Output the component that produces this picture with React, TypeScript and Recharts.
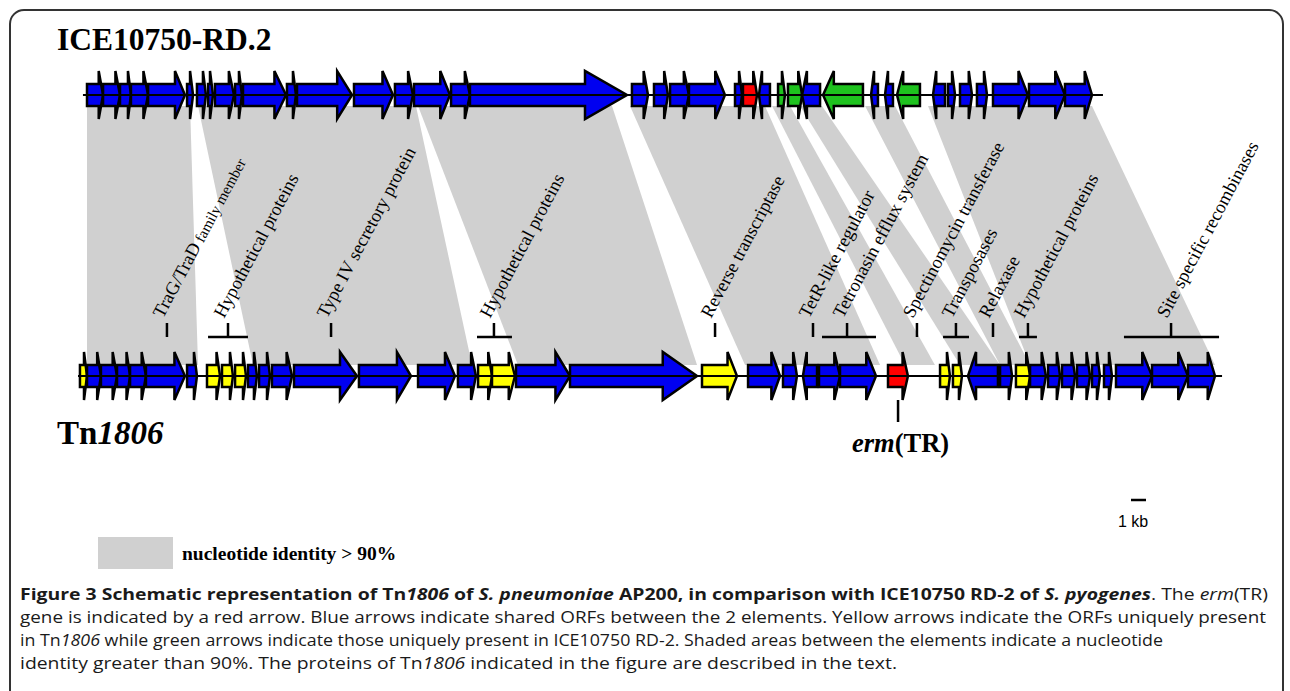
import React from "react";
import {
  ComposedChart,
  XAxis,
  YAxis,
  ReferenceArea,
  ReferenceLine,
  ReferenceDot,
} from "recharts";

// positions in kb (1 kb ~ 15 px)
type Gene = [number, number, number, string]; // start, end, strand (1 = right, -1 = left), colour key
type Band = [number, number, number, number]; // top start, top end, bottom start, bottom end

const topSpan = [0.33, 68.33];
const bottomSpan = [0, 76.27];

const topGenes: Gene[] = [
  [0.6, 1.67, 1, "b"],
  [1.67, 2.8, 1, "b"],
  [2.8, 3.53, 1, "b"],
  [3.53, 4.67, 1, "b"],
  [4.67, 7.13, 1, "b"],
  [7.27, 7.67, 1, "b"],
  [7.93, 8.53, 1, "b"],
  [8.67, 9.0, 1, "b"],
  [9.13, 10.4, 1, "b"],
  [10.47, 10.93, 1, "b"],
  [11.0, 13.87, 1, "b"],
  [13.93, 14.53, 1, "b"],
  [14.6, 18.27, 1, "b"],
  [18.4, 21.0, 1, "b"],
  [21.13, 22.33, 1, "b"],
  [22.4, 24.8, 1, "b"],
  [24.87, 26.13, 1, "b"],
  [26.13, 36.6, 1, "b"],
  [36.93, 38.0, 1, "b"],
  [38.4, 39.33, 1, "b"],
  [39.47, 40.73, 1, "b"],
  [40.73, 43.13, 1, "b"],
  [43.8, 44.27, 1, "b"],
  [44.33, 45.27, 1, "r"],
  [45.4, 46.13, -1, "b"],
  [46.67, 47.13, 1, "g"],
  [47.33, 48.27, 1, "g"],
  [48.27, 49.47, -1, "b"],
  [49.67, 52.33, -1, "g"],
  [52.87, 53.33, -1, "b"],
  [53.8, 54.33, -1, "b"],
  [54.6, 56.13, -1, "g"],
  [57.0, 57.8, -1, "b"],
  [58.0, 58.47, 1, "b"],
  [58.8, 59.6, 1, "b"],
  [59.93, 60.6, 1, "b"],
  [61.0, 63.33, 1, "b"],
  [63.4, 65.8, 1, "b"],
  [65.8, 67.6, 1, "b"],
];

const bottomGenes: Gene[] = [
  [0.13, 0.6, 1, "y"],
  [0.6, 1.53, 1, "b"],
  [1.53, 2.6, 1, "b"],
  [2.6, 3.47, 1, "b"],
  [3.47, 4.53, 1, "b"],
  [4.53, 7.13, 1, "b"],
  [7.27, 7.93, 1, "b"],
  [8.6, 9.47, 1, "y"],
  [9.6, 10.33, 1, "y"],
  [10.47, 11.2, 1, "y"],
  [11.33, 11.93, 1, "b"],
  [12.07, 12.8, 1, "b"],
  [12.93, 14.27, 1, "b"],
  [14.4, 18.6, 1, "b"],
  [18.73, 22.2, 1, "b"],
  [22.67, 25.13, 1, "b"],
  [25.33, 26.53, 1, "b"],
  [26.67, 27.6, 1, "y"],
  [27.6, 29.13, 1, "y"],
  [29.2, 32.8, 1, "b"],
  [32.8, 41.27, 1, "b"],
  [41.6, 43.93, 1, "y"],
  [44.67, 46.8, 1, "b"],
  [47.0, 47.93, 1, "b"],
  [48.33, 49.27, -1, "b"],
  [49.4, 50.8, 1, "b"],
  [50.8, 53.2, 1, "b"],
  [54.0, 55.33, 1, "r"],
  [57.47, 58.13, 1, "y"],
  [58.33, 58.93, 1, "y"],
  [59.33, 61.33, -1, "b"],
  [61.47, 62.27, 1, "b"],
  [62.53, 63.47, 1, "y"],
  [63.47, 64.53, 1, "b"],
  [64.67, 65.47, 1, "b"],
  [65.6, 66.47, 1, "b"],
  [66.6, 67.47, 1, "b"],
  [67.6, 68.13, 1, "b"],
  [68.4, 68.93, 1, "b"],
  [69.2, 71.6, 1, "b"],
  [71.6, 74.0, 1, "b"],
  [74.0, 75.8, 1, "b"],
];

const bands: Band[] = [
  [0.6, 7.47, 0.6, 8.0],
  [8.0, 22.53, 11.67, 26.27],
  [22.67, 35.6, 29.33, 41.27],
  [36.8, 45.8, 44.47, 53.47],
  [46.27, 47.47, 55.13, 57.13],
  [48.13, 49.6, 58.8, 61.47],
  [52.47, 54.47, 61.47, 63.47],
  [56.67, 67.6, 63.47, 75.8],
];

const labels = [
  { name: "TraG/TraD", small: " family member", tick: 5.93 },
  { name: "Hypothetical proteins", tick: 10.0, from: 8.67, to: 11.33 },
  { name: "Type IV secretory protein", tick: 16.87 },
  { name: "Hypothetical proteins", tick: 27.73, from: 26.6, to: 28.93 },
  { name: "Reverse transcriptase", tick: 42.47 },
  { name: "TetR-like regulator", tick: 49.0 },
  { name: "Tetronasin efflux system", tick: 51.27, from: 49.6, to: 53.2 },
  { name: "Spectinomycin transferase", tick: 55.93 },
  { name: "Transposases", tick: 58.53, from: 57.67, to: 59.4 },
  { name: "Relaxase", tick: 61.0 },
  { name: "Hypothetical proteins", tick: 63.33, from: 62.73, to: 63.93 },
  { name: "Site specific recombinases", tick: 72.87, from: 69.73, to: 76.07 },
];

const ermTick = 54.67;
const scaleBar = [70.2, 71.2];

const COLORS: Record<string, string> = {
  b: "#0000f0",
  g: "#1ec21e",
  y: "#ffff00",
  r: "#ff0000",
};

const TOP_Y = 95;
const BOT_Y = 376;
const HALF = 11;
const TICK_TOP = 323;
const TICK_BOT = 337;
const SCALE_Y = 500;
const SERIF = "'Liberation Serif', 'Times New Roman', serif";

function geneShape(dir: number, fill: string) {
  return (p: any) => {
    const { x, y, width: w, height: h } = p;
    const cy = y + h / 2;
    const hh = h * 1.09;
    const head = Math.max(3, Math.min(w * 0.27, 42));
    let pts: number[][];
    if (dir > 0) {
      const bx = x + w - head;
      pts = [[x, y], [bx, y], [bx, cy - hh], [x + w, cy], [bx, cy + hh], [bx, y + h], [x, y + h]];
    } else {
      const bx = x + head;
      pts = [[x + w, y], [bx, y], [bx, cy - hh], [x, cy], [bx, cy + hh], [bx, y + h], [x + w, y + h]];
    }
    return (
      <polygon
        points={pts.map((q) => q.join(",")).join(" ")}
        fill={fill}
        stroke="#000"
        strokeWidth={2.5}
      />
    );
  };
}

function bandShape(b: Band) {
  return (p: any) => {
    const { x, y, width, height } = p;
    const lo = Math.min(b[0], b[2]);
    const hi = Math.max(b[1], b[3]);
    const px = (v: number) => x + ((v - lo) / (hi - lo)) * width;
    const pts = [
      [px(b[0]), y],
      [px(b[1]), y],
      [px(b[3]), y + height],
      [px(b[2]), y + height],
    ];
    return <polygon points={pts.map((q) => q.join(",")).join(" ")} fill="#d0d0d0" />;
  };
}

function labelShape(name: string, small?: string) {
  return (p: any) => {
    const sx = p.cx - 4;
    const sy = p.cy;
    return (
      <text
        x={sx}
        y={sy}
        transform={`rotate(-62 ${sx} ${sy})`}
        fontFamily={SERIF}
        fontSize={18.5}
        fill="#000"
      >
        {name}
        {small && <tspan fontSize={15}>{small}</tspan>}
      </text>
    );
  };
}

export default function App() {
  const renderGenes = (genes: Gene[], cy: number, key: string) =>
    genes.map((g, i) => (
      <ReferenceArea
        key={key + i}
        x1={g[0]}
        x2={g[1]}
        y1={cy - HALF}
        y2={cy + HALF}
        shape={geneShape(g[2], COLORS[g[3]])}
      />
    ));

  return (
    <div style={{ position: "absolute", left: 0, top: 0, width: 1290, height: 691, overflow: "hidden", background: "#fff" }}>
      <div style={{ position: "absolute", left: 0, top: 0 }}>
        <ComposedChart width={1290} height={560} margin={{ top: 0, right: 0, bottom: 0, left: 0 }}>
          <XAxis type="number" dataKey="x" domain={[-5.2, 80.8]} hide allowDataOverflow />
          <YAxis type="number" domain={[0, 560]} reversed hide allowDataOverflow />
          {bands.map((b, i) => (
            <ReferenceArea
              key={"band" + i}
              x1={Math.min(b[0], b[2])}
              x2={Math.max(b[1], b[3])}
              y1={TOP_Y + HALF}
              y2={BOT_Y - HALF}
              shape={bandShape(b)}
            />
          ))}
          <ReferenceLine segment={[{ x: topSpan[0], y: TOP_Y }, { x: topSpan[1], y: TOP_Y }]} stroke="#000" strokeWidth={2} />
          <ReferenceLine segment={[{ x: bottomSpan[0], y: BOT_Y }, { x: bottomSpan[1], y: BOT_Y }]} stroke="#000" strokeWidth={2} />
          {renderGenes(topGenes, TOP_Y, "t")}
          {renderGenes(bottomGenes, BOT_Y, "b")}
          {labels.map((l, i) => (
            <ReferenceLine
              key={"tick" + i}
              segment={[{ x: l.tick, y: TICK_TOP }, { x: l.tick, y: TICK_BOT }]}
              stroke="#000"
              strokeWidth={2.5}
            />
          ))}
          {labels
            .filter((l) => l.from !== undefined)
            .map((l, i) => (
              <ReferenceLine
                key={"br" + i}
                segment={[{ x: l.from as number, y: TICK_BOT }, { x: l.to as number, y: TICK_BOT }]}
                stroke="#000"
                strokeWidth={2.5}
              />
            ))}
          {labels.map((l, i) => (
            <ReferenceDot
              key={"lab" + i}
              x={l.tick}
              y={TICK_TOP - 4}
              r={1}
              shape={labelShape(l.name, l.small)}
            />
          ))}
          <ReferenceLine segment={[{ x: ermTick, y: 400 }, { x: ermTick, y: 422 }]} stroke="#000" strokeWidth={2.5} />
          <ReferenceLine segment={[{ x: scaleBar[0], y: SCALE_Y }, { x: scaleBar[1], y: SCALE_Y }]} stroke="#000" strokeWidth={2.5} />
        </ComposedChart>
      </div>
      <svg width={1290} height={691} style={{ position: "absolute", left: 0, top: 0, pointerEvents: "none" }}>
        <rect x={10} y={10} width={1273} height={800} rx={14} fill="none" stroke="#333" strokeWidth={2} />
        <text x={57} y={50} fontFamily={SERIF} fontWeight="bold" fontSize={31.5}>ICE10750-RD.2</text>
        <text x={57} y={444} fontFamily={SERIF} fontWeight="bold" fontSize={33}>
          Tn<tspan fontStyle="italic">1806</tspan>
        </text>
        <text x={852} y={452} fontFamily={SERIF} fontWeight="bold" fontSize={26.5}>
          <tspan fontStyle="italic">erm</tspan>(TR)
        </text>
        <text x={1118} y={527} fontFamily="'Liberation Sans', Arial, sans-serif" fontSize={16}>1 kb</text>
        <rect x={98} y={537} width={75} height={32} fill="#d0d0d0" />
        <text x={182} y={560} fontFamily={SERIF} fontWeight="bold" fontSize={19.5}>nucleotide identity &gt; 90%</text>
        <g fontFamily="'Open Sans', 'Noto Sans', sans-serif" fontSize={15.5} fill="#1a1a1a">
          <text x={20} y={600} textLength={1248} lengthAdjust="spacingAndGlyphs">
            <tspan fontWeight="bold">Figure 3 Schematic representation of Tn<tspan fontStyle="italic">1806</tspan> of <tspan fontStyle="italic">S. pneumoniae</tspan> AP200, in comparison with ICE10750 RD-2 of <tspan fontStyle="italic">S. pyogenes</tspan></tspan>. The <tspan fontStyle="italic">erm</tspan>(TR)
          </text>
          <text x={20} y={623} textLength={1246} lengthAdjust="spacingAndGlyphs">
            gene is indicated by a red arrow. Blue arrows indicate shared ORFs between the 2 elements. Yellow arrows indicate the ORFs uniquely present
          </text>
          <text x={20} y={646} textLength={1143} lengthAdjust="spacingAndGlyphs">
            in Tn<tspan fontStyle="italic">1806</tspan> while green arrows indicate those uniquely present in ICE10750 RD-2. Shaded areas between the elements indicate a nucleotide
          </text>
          <text x={20} y={669} textLength={877} lengthAdjust="spacingAndGlyphs">
            identity greater than 90%. The proteins of Tn<tspan fontStyle="italic">1806</tspan> indicated in the figure are described in the text.
          </text>
        </g>
      </svg>
    </div>
  );
}
